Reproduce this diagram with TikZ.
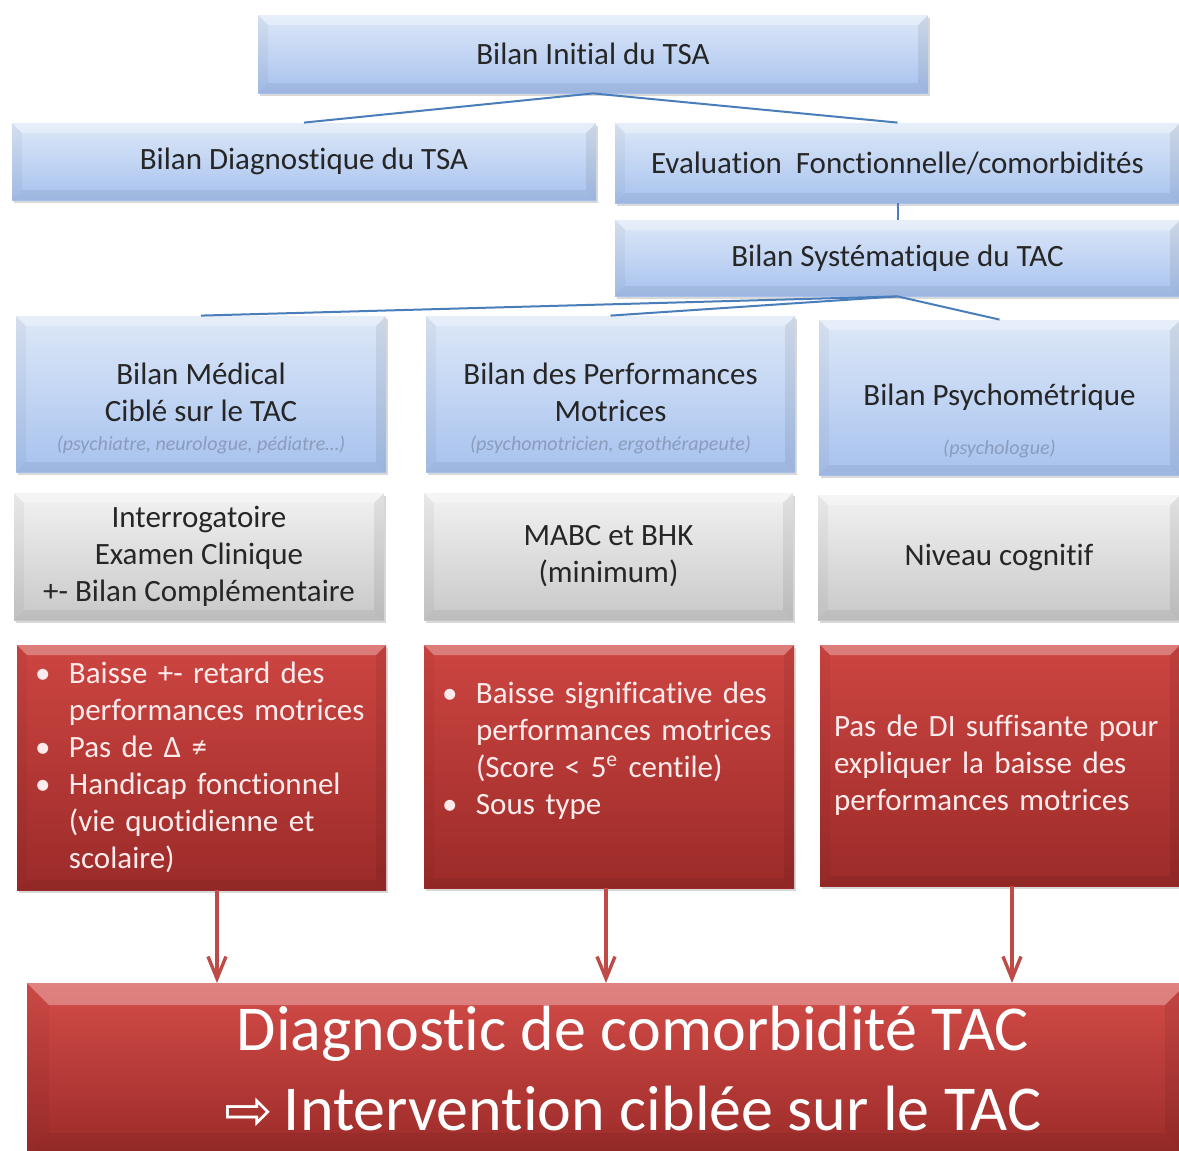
\documentclass[tikz,border=0pt]{standalone}
\usepackage{fontspec}
\setmainfont{Carlito}[Ligatures=NoCommon]
\newfontfamily\symbfont{DejaVu Sans}
\usetikzlibrary{shadows, arrows.meta}

\definecolor{bluetop}{HTML}{DDE8F8}
\definecolor{bluebot}{HTML}{A7C2EE}
\definecolor{greytop}{HTML}{F2F2F2}
\definecolor{greybot}{HTML}{C8C8C8}
\definecolor{redtop}{HTML}{CD4541}
\definecolor{redbot}{HTML}{9B2B29}
\definecolor{bigtop}{HTML}{D44C48}
\definecolor{linkblue}{HTML}{4A7EBB}
\definecolor{arrowred}{HTML}{BE4B48}
\definecolor{subgrey}{HTML}{8A9CBC}

\newcommand{\itm}{\makebox[17pt][l]{\textbullet}}
\newcommand{\cnt}{\hspace*{17pt}}
\newcommand{\subtxt}{\fontsize{10}{12}\selectfont\itshape\color{subgrey}}

\tikzset{
  bevel/.style={path picture={
    \fill[white, opacity=.3] (path picture bounding box.north west) -- (path picture bounding box.north east)
      -- ([shift={(-#1,-#1)}]path picture bounding box.north east) -- ([shift={(#1,-#1)}]path picture bounding box.north west) -- cycle;
    \fill[black, opacity=.04] (path picture bounding box.north west) -- ([shift={(#1,-#1)}]path picture bounding box.north west)
      -- ([shift={(#1,#1)}]path picture bounding box.south west) -- (path picture bounding box.south west) -- cycle;
    \fill[black, opacity=.07] (path picture bounding box.north east) -- ([shift={(-#1,-#1)}]path picture bounding box.north east)
      -- ([shift={(-#1,#1)}]path picture bounding box.south east) -- (path picture bounding box.south east) -- cycle;
    \fill[black, opacity=.06] (path picture bounding box.south west) -- (path picture bounding box.south east)
      -- ([shift={(-#1,#1)}]path picture bounding box.south east) -- ([shift={(#1,#1)}]path picture bounding box.south west) -- cycle;
  }},
  bevel/.default=5pt
}

\begin{document}
\begin{tikzpicture}[x=0.5pt, y=-0.5pt,
    box/.style={rectangle, inner sep=0pt, bevel, drop shadow={opacity=0.3, shadow xshift=0.8pt, shadow yshift=-1.5pt},
      font=\fontsize{15.5}{18.5}\selectfont},
    bluebox/.style={box, top color=bluetop, bottom color=bluebot, text=black!85, align=center},
    greybox/.style={box, top color=greytop, bottom color=greybot, text=black!85, align=center},
    redbox/.style={box, top color=redtop, bottom color=redbot, text=white!92!red, align=left},
    bigbox/.style={box, bevel=11pt, top color=bigtop, bottom color=redbot, text=white,
      font=\fontsize{32}{40}\selectfont, align=center},
    link/.style={draw=linkblue, line width=1pt},
    redarrow/.style={draw=arrowred, line width=1.7pt, -{Straight Barb[length=11pt,width=9pt]}}
  ]

  \path[use as bounding box, fill=white] (0,0) rectangle (1179,1151);

  % Bilans TSA
  \node[bluebox, minimum width=335pt, minimum height=39pt] (init) at (593,54) {Bilan Initial du TSA};
  \node[bluebox, minimum width=292pt, minimum height=38.5pt] (diag) at (304,161.5) {Bilan Diagnostique du TSA};
  \node[bluebox, minimum width=282.5pt, minimum height=40pt] (evalf) at (897.5,163) {Evaluation\ \ Fonctionnelle/comorbidités};
  \node[bluebox, minimum width=282.5pt, minimum height=38pt] (syst) at (897.5,258) {Bilan Systématique du TAC};

  % Bilans TAC
  \node[bluebox, minimum width=185pt, minimum height=78pt] (med) at (201,394)
    {\mbox{}\\[6.5pt]Bilan Médical\\Ciblé sur le TAC\\[-4pt]{\subtxt (psychiatre, neurologue, pédiatre…)}};
  \node[bluebox, minimum width=184.5pt, minimum height=78pt] (perf) at (610.5,394)
    {\mbox{}\\[6.5pt]Bilan des Performances\\Motrices\\[-4pt]{\subtxt (psychomotricien, ergothérapeute)}};
  \node[bluebox, minimum width=180.5pt, minimum height=77.5pt] (psy) at (999.5,397.5)
    {\mbox{}\\[16pt]Bilan Psychométrique\\[6pt]{\subtxt (psychologue)}};

  % Outils
  \node[greybox, minimum width=185pt, minimum height=63.5pt] (outmed) at (199,556.5)
    {Interrogatoire\\Examen Clinique\\+- Bilan Complémentaire};
  \node[greybox, minimum width=184.5pt, minimum height=63.5pt] (outperf) at (608.5,556.5)
    {MABC et BHK\\(minimum)};
  \node[greybox, minimum width=181pt, minimum height=62.5pt] (outpsy) at (999,557.5)
    {Niveau cognitif};

  % Criteres
  \node[redbox, minimum width=184.5pt, minimum height=122.5pt, text width=166.5pt] (r1) at (201.5,767.5)
    {\itm Baisse +- retard des\\\cnt performances motrices\\\itm Pas de Δ ≠\\\itm Handicap fonctionnel\\\cnt (vie quotidienne et\\\cnt scolaire)};
  \node[redbox, minimum width=185pt, minimum height=121.5pt, text width=167pt] (r2) at (609,766.5)
    {\itm Baisse significative des\\\cnt performances motrices\\\cnt (Score < 5\textsuperscript{e} centile)\\\itm Sous type\\\mbox{}};
  \node[redbox, minimum width=180pt, minimum height=120.5pt, text width=166pt] (r3) at (1000,765.5)
    {Pas de DI suffisante pour\\expliquer la baisse des\\performances motrices};

  % Diagnostic
  \node[bigbox, minimum width=580pt, minimum height=86pt] (dg) at (607,1069)
    {\hspace*{26pt}Diagnostic de comorbidité TAC\\\hspace*{26pt}{\symbfont\fontsize{29}{40}\selectfont ⇨}\,Intervention ciblée sur le TAC};

  % Liens
  \draw[link] (init.south) -- (diag.north);
  \draw[link] (init.south) -- (evalf.north);
  \draw[link] (evalf.south) -- (syst.north);
  \foreach \n in {med, perf, psy}
    \draw[link] (syst.south) -- (\n.north);

  % Fleches
  \foreach \n/\x in {r1/217, r2/606, r3/1012} {
    \coordinate (a-\n) at (\x,983);
    \draw[redarrow] (\n.south -| a-\n) -- (a-\n);
  }

\end{tikzpicture}
\end{document}
